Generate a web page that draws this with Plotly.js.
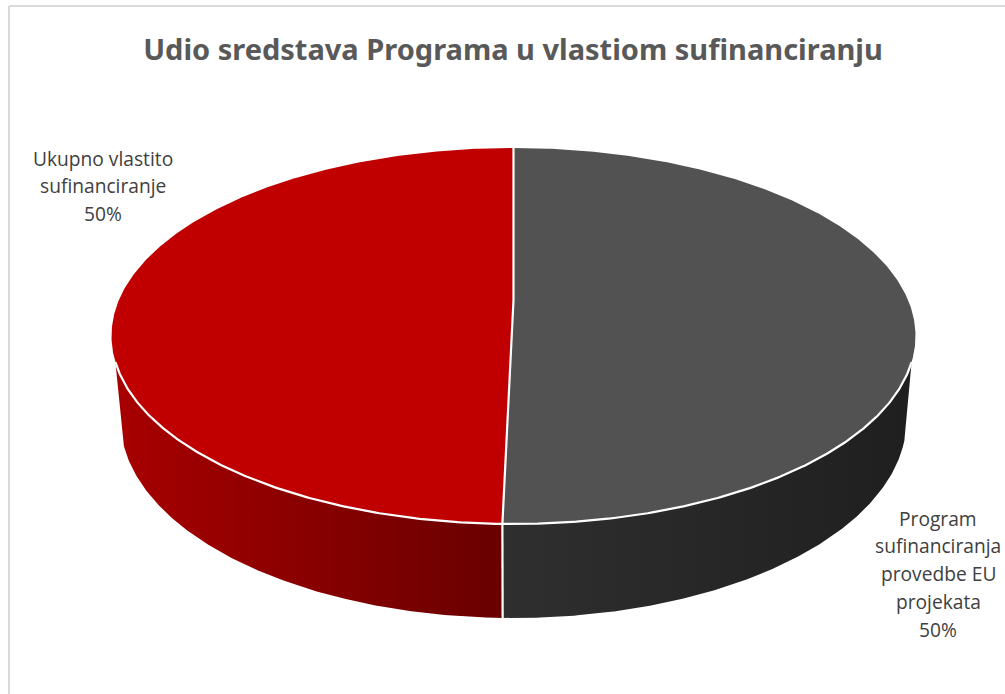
<!DOCTYPE html>
<html>
<head>
<meta charset="utf-8">
<script src="https://cdn.plot.ly/plotly-3.0.1.min.js"></script>
<style>html,body{margin:0;padding:0;background:#fff}#chart{width:1005px;height:694px}</style>
</head>
<body>
<div id="chart"></div>
<script>
// Data
const categories = ["Program<br>sufinanciranja<br>provedbe EU<br>projekata", "Ukupno vlastito<br>sufinanciranje"];
const shares = [50.44, 49.56];
const chartTitle = "Udio sredstava Programa u vlastiom sufinanciranju";

// Look
const topColors = ["#525252", "#c00000"];
const wallGradients = [
  [[0, "#2f2f2f"], [1, "#1f1f1f"]],
  [[0, "#a80000"], [1, "#690000"]]
];
const textColor = "#404040";

// Projection of the disc on screen
const top_ = {cx: 513.5, cy: 336, rx: 402, ry: 188, apexY: 300};
const low = {cx: 513.5, cy: 420, rx: 393, ry: 198};
const rimEnd = 98, lowEnd = 96; // degrees from 12 o'clock where the wall silhouette starts

const pt = (e, deg) => {
  const t = deg * Math.PI / 180;
  return [e.cx + e.rx * Math.sin(t), e.cy - e.ry * Math.cos(t)];
};
const arc = (e, a, b) => {
  const n = Math.max(2, Math.ceil(Math.abs(b - a) * 2)), out = [];
  for (let i = 0; i <= n; i++) out.push(pt(e, a + (b - a) * i / n));
  return out;
};
const path = (pts, extra) => Object.assign({
  x: pts.map(p => p[0]), y: pts.map(p => p[1]),
  mode: "lines", hoverinfo: "skip", showlegend: false, line: {width: 0}
}, extra);

const total = shares.reduce((a, b) => a + b, 0);
const split = shares[0] / total * 360;

// Side walls
const wallA = arc(top_, rimEnd, split).concat(arc(low, split, lowEnd));
const wallB = arc(top_, split, 360 - rimEnd).concat(arc(low, 360 - lowEnd, split));
// Top faces
const apex = [top_.cx, top_.apexY];
const faceA = arc(top_, 0, split).concat([apex]);
const faceB = arc(top_, split, 360).concat([apex]);

const white = {color: "#ffffff", width: 2.2};
const traces = [
  path(wallA, {fill: "toself", fillcolor: "#2a2a2a", fillgradient: {type: "horizontal", colorscale: wallGradients[0]}}),
  path(wallB, {fill: "toself", fillcolor: "#8a0000", fillgradient: {type: "horizontal", colorscale: wallGradients[1]}}),
  path(faceA, {fill: "toself", fillcolor: topColors[0]}),
  path(faceB, {fill: "toself", fillcolor: topColors[1]}),
  path(arc(top_, rimEnd, 360 - rimEnd), {line: white}),
  path([pt(top_, 0), apex, pt(top_, split)], {line: white}),
  path([pt(top_, split), pt(low, split)], {line: white})
];

const pct = v => Math.round(v / total * 100) + "%";
const labelFont = {family: "Open Sans, sans-serif", size: 19.2, color: textColor};
// Each text line is placed on its own so the line pitch can follow the reference.
const labelLines = (i, x, y0, pitch) =>
  categories[i].split("<br>").concat(pct(shares[i])).map((t, k) => ({
    text: t, x: x, y: y0 + k * pitch,
    xref: "x", yref: "y", showarrow: false, align: "center",
    xanchor: "center", yanchor: "middle", font: labelFont
  }));

const layout = {
  width: 1005, height: 694,
  margin: {l: 0, r: 0, t: 0, b: 0},
  paper_bgcolor: "#ffffff", plot_bgcolor: "#ffffff",
  xaxis: {range: [0, 1005], visible: false, fixedrange: true},
  yaxis: {range: [694, 0], visible: false, fixedrange: true},
  showlegend: false,
  title: {
    text: "<b>" + chartTitle + "</b>",
    x: 513 / 1005, xanchor: "center", y: 1 - 50 / 694, yanchor: "middle",
    font: {family: "Noto Sans, sans-serif", size: 29, color: "#595959"}
  },
  shapes: [
    {type: "line", xref: "x", yref: "y", x0: 9, x1: 9, y0: 6, y1: 694, line: {color: "#d9d9d9", width: 2}},
    {type: "line", xref: "x", yref: "y", x0: 9, x1: 1005, y0: 6, y1: 6, line: {color: "#d9d9d9", width: 2}}
  ],
  annotations: labelLines(0, 938, 518, 27.8).concat(labelLines(1, 103, 158, 27.5))
};

Plotly.newPlot("chart", traces, layout, {displayModeBar: false, staticPlot: true});
</script>
</body>
</html>
